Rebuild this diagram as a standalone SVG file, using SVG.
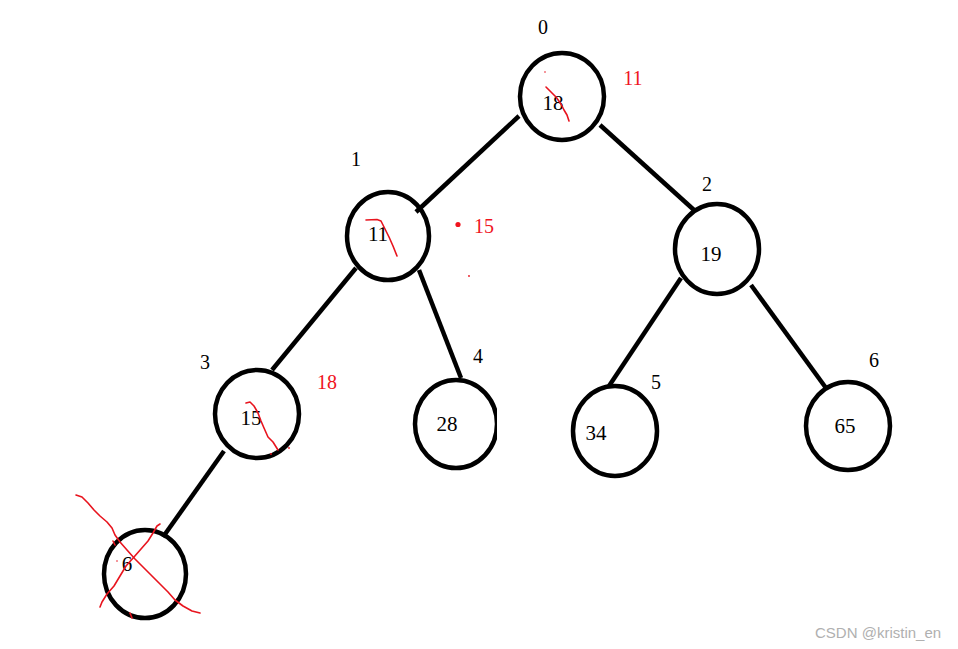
<svg xmlns="http://www.w3.org/2000/svg" width="958" height="649" viewBox="0 0 958 649">
<style>
.node{fill:none;stroke:#000;stroke-width:4.5}
.edge{stroke:#000;stroke-width:4.5;stroke-linecap:butt}
.t{font-family:"Liberation Serif","DejaVu Serif",serif;font-size:21px;fill:#000}
.idx{font-family:"Liberation Serif","DejaVu Serif",serif;font-size:20px;fill:#000}
.red{font-family:"Liberation Serif","DejaVu Serif",serif;font-size:20px;fill:#f0141e}
.scr{fill:none;stroke:#e8141e;stroke-width:1.6;stroke-linecap:round;stroke-linejoin:round}
.wm{font-family:"Liberation Sans",Arial,sans-serif;font-size:15px;fill:#b0b0b0}
</style>
<defs><clipPath id="c4"><rect x="0" y="0" width="497" height="649"/></clipPath></defs>
<rect width="958" height="649" fill="#fff"/>
<g id="connectors">
<line class="edge" x1="519" y1="116" x2="416" y2="212"/>
<line class="edge" x1="600" y1="125" x2="694" y2="210"/>
<line class="edge" x1="356" y1="268" x2="272" y2="370"/>
<line class="edge" x1="419" y1="270" x2="461" y2="378"/>
<line class="edge" x1="681" y1="278" x2="609" y2="386"/>
<line class="edge" x1="751" y1="285" x2="826" y2="388"/>
<line class="edge" x1="224" y1="451" x2="163" y2="537"/>
</g>
<g id="node0">
<ellipse class="node" cx="562" cy="96.5" rx="42" ry="43.5"/>
<text class="t" x="553" y="110" text-anchor="middle">18</text>
<text class="idx" x="543" y="34" text-anchor="middle">0</text>
<text class="red" x="633" y="85" text-anchor="middle">11</text>
<path class="scr" d="M546 87 L551 92 L556 97 L561 104 L564 110 L567 115 L569 121"/>
<circle cx="545" cy="72" r="0.8" fill="#e8141e"/>
</g>
<g id="node1">
<ellipse class="node" cx="388" cy="236" rx="41" ry="44"/>
<text class="t" x="378" y="241" text-anchor="middle">11</text>
<text class="idx" x="356" y="166" text-anchor="middle">1</text>
<circle cx="458" cy="224.5" r="2.6" fill="#f0141e"/>
<text class="red" x="484" y="233" text-anchor="middle">15</text>
<path class="scr" d="M366 220 L377 219.5 L381 221 L385 229 L389 237 L393 246 L397 256"/>
<circle cx="469" cy="276" r="0.9" fill="#e8141e"/>
</g>
<g id="node2">
<ellipse class="node" cx="717" cy="249" rx="42" ry="45"/>
<text class="t" x="711" y="261" text-anchor="middle">19</text>
<text class="idx" x="707" y="191" text-anchor="middle">2</text>
</g>
<g id="node3">
<ellipse class="node" cx="257" cy="414" rx="42" ry="44"/>
<text class="t" x="251" y="425" text-anchor="middle">15</text>
<text class="idx" x="205" y="369" text-anchor="middle">3</text>
<text class="red" x="327" y="389" text-anchor="middle">18</text>
<path class="scr" d="M246 403 L250 402 L254 406 L258 413 L261 421 L264 428 L268 437 L273 442 L278 450"/>
<circle cx="289" cy="448" r="0.9" fill="#e8141e"/>
<circle cx="271" cy="454" r="0.9" fill="#e8141e"/>
</g>
<g id="node4">
<ellipse class="node" cx="456" cy="424" rx="41" ry="44" clip-path="url(#c4)"/>
<text class="t" x="447" y="431" text-anchor="middle">28</text>
<text class="idx" x="478" y="363" text-anchor="middle">4</text>
</g>
<g id="node5">
<ellipse class="node" cx="615" cy="431" rx="42" ry="45"/>
<text class="t" x="596" y="440" text-anchor="middle">34</text>
<text class="idx" x="656" y="389" text-anchor="middle">5</text>
</g>
<g id="node6">
<ellipse class="node" cx="848" cy="426" rx="42" ry="44"/>
<text class="t" x="845" y="433" text-anchor="middle">65</text>
<text class="idx" x="874" y="367" text-anchor="middle">6</text>
</g>
<g id="node7">
<ellipse class="node" cx="145" cy="574" rx="41" ry="44"/>
<text class="t" x="127" y="571" text-anchor="middle">6</text>
<path class="scr" d="M76 495 L82 497 L88 503 L94 510 L100 516 L107 522 L112 528 L115 535 L120 542 L127 550 L135 559 L143 567 L151 575 L160 584 L168 592 L175 600 L183 606 L192 611 L200 613"/>
<path class="scr" d="M160 524 L157 526 L153 533 L148 541 L141 549 L134 557 L126 566 L120 576 L114 586 L107 594 L102 602 L100 607"/>
<path class="scr" d="M113 541 L115 545"/>
<circle cx="117" cy="561" r="0.8" fill="#e8141e"/>
<path class="scr" d="M130 613 L132 618"/>
</g>
<text class="wm" x="815" y="638">CSDN @kristin_en</text>
</svg>
